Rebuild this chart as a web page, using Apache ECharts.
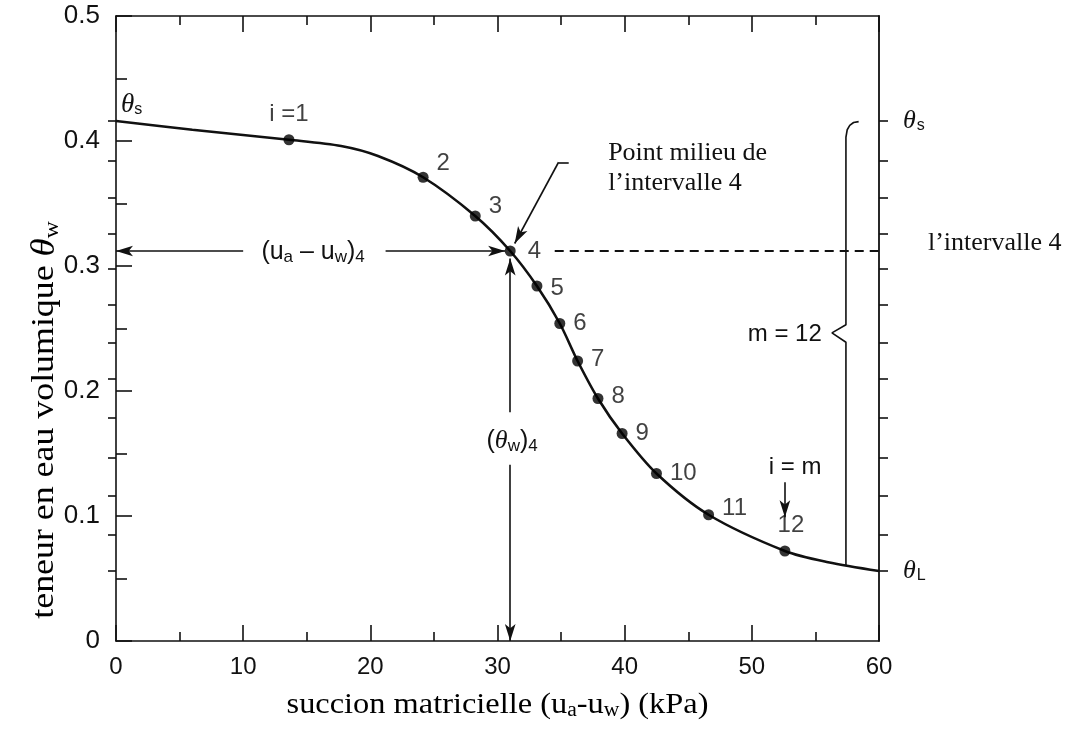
<!DOCTYPE html>
<html><head><meta charset="utf-8">
<script src="https://cdn.jsdelivr.net/npm/echarts@6/dist/echarts.min.js"></script>
<style>html,body{margin:0;padding:0;background:#fff}#c{width:1071px;height:730px}</style>
</head><body><div id="c"></div>
<script>
// ---- data ----
const xTickValues = [0, 10, 20, 30, 40, 50, 60];
const yTickValues = [0, 0.1, 0.2, 0.3, 0.4, 0.5];
const curveX = [0, 6, 13.6, 17.7, 20.6, 24.15, 28.25, 31.0, 33.1, 34.9, 36.3, 37.9, 39.8, 42.5, 46.6, 52.6, 56.0, 60];
const curveY = [0.416, 0.409, 0.401, 0.396, 0.388, 0.371, 0.340, 0.312, 0.284, 0.254, 0.224, 0.194, 0.166, 0.134, 0.101, 0.072, 0.063, 0.056];
const pointX = [13.6, 24.15, 28.25, 31.0, 33.1, 34.9, 36.3, 37.9, 39.8, 42.5, 46.6, 52.6];
const pointY = [0.401, 0.371, 0.340, 0.312, 0.284, 0.254, 0.224, 0.194, 0.166, 0.134, 0.101, 0.072];
const pointLabels = ['i =1', '2', '3', '4', '5', '6', '7', '8', '9', '10', '11', '12'];
const intervalTicks = [0.416, 0.384, 0.355, 0.326, 0.298, 0.269, 0.239, 0.210, 0.179, 0.147, 0.116, 0.085, 0.056];
const thetaS = 0.416, thetaL = 0.056;

// ---- styling ----
const SANS = '"Liberation Sans", Arial, Helvetica, sans-serif';
const SERIF = '"Liberation Serif", "Times New Roman", serif';
const INK = '#111';
// label placement per point: [position, dx, dy]
const labelPlace = [['top',0,-2],['right',2,-14],['right',2,-10],['right',6,0],['right',2,2],['right',2,0],['right',2,-2],['right',2,-2],['right',2,0],['right',2,0],['right',2,-6],['top',6,-2]];

const x4 = pointX[3], t4 = pointY[3];
const chart = echarts.init(document.getElementById('c'));

function xAxisDef(pos, showLabel) {
  return {
    type: 'value', min: 0, max: 60, interval: 10, position: pos,
    axisLine: {show: true, onZero: false, lineStyle: {color: INK, width: 1.6}},
    axisTick: {show: true, inside: true, length: 16, lineStyle: {color: INK, width: 1.6}},
    minorTick: {show: true, splitNumber: 2, length: 9, lineStyle: {color: INK, width: 1.6}},
    axisLabel: {show: showLabel, margin: 14, fontSize: 24, color: INK, fontFamily: SANS},
    splitLine: {show: false}, minorSplitLine: {show: false}
  };
}
const thetaRich = {
  t: {fontFamily: SERIF, fontStyle: 'italic', fontSize: 26, color: INK},
  s: {fontFamily: SANS, fontSize: 16, color: INK, padding: [10, 0, 0, 1]}
};

function seg(a, b, s0, s1, style) {
  return [{coord: a, symbol: s0, lineStyle: style}, {coord: b, symbol: s1}];
}
const solid = {color: INK, width: 1.6, type: 'solid'};
const dashed = {color: INK, width: 1.8, type: [9, 6]};

const option = {
  animation: false,
  backgroundColor: '#fff',
  grid: {left: 116, right: 192, top: 16, bottom: 89},
  xAxis: [xAxisDef('bottom', true), xAxisDef('top', false)],
  yAxis: [
    {
      type: 'value', min: 0, max: 0.5, interval: 0.1, position: 'left',
      axisLine: {show: true, onZero: false, lineStyle: {color: INK, width: 1.6}},
      axisTick: {show: true, inside: true, length: 16, lineStyle: {color: INK, width: 1.6}},
      minorTick: {show: true, splitNumber: 2, length: 11, lineStyle: {color: INK, width: 1.6}},
      axisLabel: {margin: 16, fontSize: 26, color: INK, fontFamily: SANS,
        formatter: v => v === 0 ? '0' : v.toFixed(1)},
      splitLine: {show: false}
    },
    {
      type: 'value', min: 0, max: 0.5, position: 'right',
      axisLine: {show: true, onZero: false, lineStyle: {color: INK, width: 1.8}},
      axisTick: {show: true, inside: false, length: 9, customValues: intervalTicks, lineStyle: {color: INK, width: 1.6}},
      axisLabel: {show: true, margin: 24, customValues: [thetaS, thetaL], rich: thetaRich,
        formatter: v => Math.abs(v - thetaS) < 1e-6 ? '{t|θ}{s|s}' : '{t|θ}{s|L}'},
      splitLine: {show: false}
    },
    {
      type: 'value', min: 0, max: 0.5, position: 'right',
      axisLine: {show: false},
      axisTick: {show: true, inside: true, length: 8, customValues: intervalTicks, lineStyle: {color: INK, width: 1.6}},
      axisLabel: {show: false, customValues: intervalTicks},
      splitLine: {show: false}
    }
  ],
  series: [
    {
      type: 'line', data: curveX.map((x, i) => [x, curveY[i]]),
      smooth: 0.3, symbol: 'none',
      lineStyle: {color: INK, width: 2.6}, z: 3, silent: true
    },
    {
      type: 'scatter', symbolSize: 11, itemStyle: {color: '#000'}, z: 5, silent: true,
      data: pointX.map((x, i) => ({
        value: [x, pointY[i]],
        label: {show: true, position: labelPlace[i][0], offset: [labelPlace[i][1], labelPlace[i][2]], distance: 6,
          formatter: pointLabels[i], fontSize: 24, fontFamily: SANS, color: INK}
      })),
      markLine: {
        silent: true, animation: false, symbolSize: [8, 17],
        label: {show: false}, emphasis: {disabled: true},
        lineStyle: solid,
        data: [
          seg([10.0, t4], [0, t4], 'none', 'arrow', solid),
          seg([21.2, t4], [30.6, t4], 'none', 'arrow', solid),
          seg([x4, 0.183], [x4, 0.306], 'none', 'arrow', solid),
          seg([x4, 0.141], [x4, 0.0], 'none', 'arrow', solid),
          seg([35.6, 0.383], [34.8, 0.383], 'none', 'none', solid),
          seg([34.8, 0.383], [31.35, 0.318], 'none', 'arrow', solid),
          seg([34.5, t4], [60, t4], 'none', 'none', dashed),
          seg([52.6, 0.127], [52.6, 0.099], 'none', 'arrow', solid)
        ]
      }
    },
    { // large brace m = 12
      type: 'line', symbol: 'none', silent: true, z: 2, clip: false,
      lineStyle: {color: INK, width: 1.6},
      data: [[58.4, 0.4155], [58.0, 0.4148], [57.7, 0.4125], [57.5, 0.409], [57.4, 0.403],
             [57.4, 0.253], [56.3, 0.2465], [57.4, 0.239], [57.4, 0.060]]
    },
    { // small brace for interval 4
      type: 'line', symbol: 'none', silent: true, z: 2, clip: false, smooth: 0.5,
      lineStyle: {color: INK, width: 1.5},
      data: [[60.95, 0.327], [61.25, 0.322], [61.3, 0.316], [61.6, 0.311], [61.3, 0.306], [61.25, 0.300], [60.95, 0.295]]
    }
  ]
};
chart.setOption(option);

// ---- text annotations placed through the chart's own scales ----
const P = (x, y) => chart.convertToPixel({xAxisIndex: 0, yAxisIndex: 0}, [x, y]);
function txt(xy, text, style, extra) {
  const p = P(xy[0], xy[1]);
  return Object.assign({type: 'text', x: p[0], y: p[1], silent: true, z: 10,
    style: Object.assign({text: text, fill: INK}, style)}, extra || {});
}
const subRich = (font, size, subSize, pad) => ({
  n: {fontFamily: font, fontSize: size, color: INK},
  i: {fontFamily: SERIF, fontStyle: 'italic', fontSize: size + 1, color: INK},
  b: {fontFamily: font, fontSize: subSize, color: INK, padding: [pad, 0, 0, 0]}
});
const graphics = [
  txt([0.4, 0.429], '{i|θ}{b|s}', {rich: subRich(SANS, 26, 16, 10), align: 'left', verticalAlign: 'middle'}),
  txt([38.7, 0.378], 'Point milieu de\nl’intervalle 4', {font: '26px ' + SERIF, lineHeight: 30, align: 'left', verticalAlign: 'middle'}),
  txt([63.85, 0.318], 'l’intervalle 4', {font: '26px ' + SERIF, align: 'left', verticalAlign: 'middle'}),
  txt([15.5, 0.311], '{n|(u}{b|a}{n| – u}{b|w}{n|)}{b|4}', {rich: subRich(SANS, 25, 17, 10), align: 'center', verticalAlign: 'middle'}),
  txt([x4 + 0.15, 0.160], '{n|(}{i|θ}{b|w}{n|)}{b|4}', {rich: subRich(SANS, 25, 17, 10), align: 'center', verticalAlign: 'middle'}),
  txt([55.5, 0.245], 'm = 12', {font: '24px ' + SANS, align: 'right', verticalAlign: 'middle'}),
  txt([53.4, 0.139], 'i = m', {font: '24px ' + SANS, align: 'center', verticalAlign: 'middle'})
];
// axis titles
const bl = P(0, 0), tr = P(60, 0.5);
graphics.push({
  type: 'text', x: (bl[0] + tr[0]) / 2, y: 705, silent: true, scaleX: 1.08,
  style: {text: '{n|succion matricielle (u}{b|a}{n|-u}{b|w}{n|) (kPa)}', align: 'center', verticalAlign: 'middle',
    rich: {n: {fontFamily: SERIF, fontSize: 30, color: INK}, b: {fontFamily: SERIF, fontSize: 20, color: INK, padding: [12, 0, 0, 0]}}}
});
graphics.push({
  type: 'text', x: 45, y: 420, rotation: Math.PI / 2, scaleX: 1.12, silent: true,
  style: {text: '{n|teneur en eau volumique }{i|θ}{b|w}', align: 'center', verticalAlign: 'middle',
    rich: {n: {fontFamily: SERIF, fontSize: 32, color: INK}, i: {fontFamily: SERIF, fontStyle: 'italic', fontSize: 33, color: INK},
      b: {fontFamily: SERIF, fontSize: 21, color: INK, padding: [14, 0, 0, 0]}}}
});
chart.setOption({graphic: graphics});
</script>
</body></html>
